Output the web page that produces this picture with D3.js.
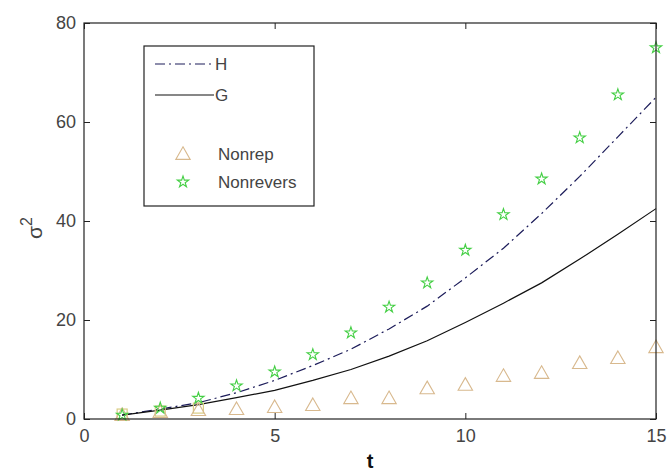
<!DOCTYPE html>
<html>
<head>
<meta charset="utf-8">
<script src="https://cdn.jsdelivr.net/npm/d3@7"></script>
<style>
  html, body { margin: 0; padding: 0; background: #fff; }
  svg { display: block; font-family: "Liberation Sans", Arial, sans-serif; }
</style>
</head>
<body>
<svg id="chart" width="667" height="475"></svg>
<script>
// Time steps
const t = [1, 2, 3, 4, 5, 6, 7, 8, 9, 10, 11, 12, 13, 14, 15];
// Model curves
const H = [0.8, 2.0, 3.3, 5.3, 7.8, 10.8, 14.1, 18.2, 22.8, 28.5, 34.5, 41.5, 49.0, 57.0, 65.0];
const G = [0.8, 1.8, 2.9, 4.3, 5.8, 7.8, 10.0, 12.7, 15.8, 19.5, 23.4, 27.5, 32.3, 37.3, 42.5];
// Simulated points
const nonrep = [0.8, 1.4, 1.8, 2.0, 2.4, 2.8, 4.2, 4.2, 6.2, 6.9, 8.7, 9.3, 11.3, 12.3, 14.5];
const nonrevers = [0.8, 2.2, 4.2, 6.7, 9.5, 13.0, 17.4, 22.6, 27.5, 34.1, 41.3, 48.5, 56.8, 65.5, 75.0];
const squareT = [1, 2, 3];
const squareV = [1.0, 1.6, 2.2];
// Axis ticks
const xTicks = [0, 5, 10, 15];
const yTicks = [0, 20, 40, 60, 80];

const svg = d3.select("#chart");
const L = 84, R = 656, T = 23, B = 419;
const x = d3.scaleLinear().domain([0, 15]).range([L, R]);
const y = d3.scaleLinear().domain([0, 80]).range([B, T]);

const textCol = "#444";
const triCol = "#d8b98e";
const starCol = "#45cf45";
const sqCol = "#d9cc84";

// Lines
const line = d3.line().x((d, i) => x(t[i])).y(d => y(d));
svg.append("path").datum(H).attr("d", line)
  .attr("fill", "none").attr("stroke", "#1c1c5a").attr("stroke-width", 1.2)
  .attr("stroke-dasharray", "10,4,2,4");
svg.append("path").datum(G).attr("d", line)
  .attr("fill", "none").attr("stroke", "#111").attr("stroke-width", 1.2);

// Marker shapes
const triPath = s => `M0,${-s*0.6}L${s*0.6},${s*0.45}L${-s*0.6},${s*0.45}Z`;
const starPath = d3.symbol().type(d3.symbolStar).size(40)();

svg.append("g").selectAll("rect").data(squareV).join("rect")
  .attr("x", (d, i) => x(squareT[i]) - 5).attr("y", d => y(d) - 5)
  .attr("width", 10).attr("height", 10)
  .attr("fill", "none").attr("stroke", sqCol).attr("stroke-width", 1.2);

svg.append("g").selectAll("path").data(nonrep).join("path")
  .attr("d", triPath(12))
  .attr("transform", (d, i) => `translate(${x(t[i])},${y(d)})`)
  .attr("fill", "none").attr("stroke", triCol).attr("stroke-width", 1.1);

svg.append("g").selectAll("path").data(nonrevers).join("path")
  .attr("d", starPath)
  .attr("transform", (d, i) => `translate(${x(t[i])},${y(d)})`)
  .attr("fill", "none").attr("stroke", starCol).attr("stroke-width", 1.1);

// Axes box with inward ticks on all sides
const axG = svg.append("g").attr("stroke", "#222");
axG.append("rect").attr("x", L).attr("y", T).attr("width", R - L).attr("height", B - T)
  .attr("fill", "none").attr("stroke-width", 1.2);

const axB = d3.axisBottom(x).tickValues(xTicks).tickSize(-6).tickPadding(10);
const gx = svg.append("g").attr("transform", `translate(0,${B})`).call(axB);
gx.select(".domain").remove();
gx.selectAll("line").attr("stroke", "#222");
gx.selectAll("text").attr("font-size", 18).attr("fill", textCol)
  .attr("font-family", "Liberation Sans, Arial, sans-serif");

const axT = d3.axisTop(x).tickValues(xTicks).tickSize(-6).tickFormat("");
const gt = svg.append("g").attr("transform", `translate(0,${T})`).call(axT);
gt.select(".domain").remove();
gt.selectAll("line").attr("stroke", "#222");

const axL = d3.axisLeft(y).tickValues(yTicks).tickSize(-6).tickPadding(8);
const gy = svg.append("g").attr("transform", `translate(${L},0)`).call(axL);
gy.select(".domain").remove();
gy.selectAll("line").attr("stroke", "#222");
gy.selectAll("text").attr("font-size", 18).attr("fill", textCol)
  .attr("font-family", "Liberation Sans, Arial, sans-serif");

const axR = d3.axisRight(y).tickValues(yTicks).tickSize(-6).tickFormat("");
const gr = svg.append("g").attr("transform", `translate(${R},0)`).call(axR);
gr.select(".domain").remove();
gr.selectAll("line").attr("stroke", "#222");

// Axis titles
svg.append("text").attr("x", 370).attr("y", 468).attr("text-anchor", "middle")
  .attr("font-size", 20).attr("font-weight", "bold").attr("fill", "#111").text("t");

const yl = svg.append("text").attr("transform", "translate(42,228) rotate(-90)")
  .attr("text-anchor", "middle").attr("font-size", 21).attr("fill", textCol);
yl.append("tspan").text("σ");
yl.append("tspan").attr("dy", -10).attr("font-size", 16).text("2");

// Legend
const lg = svg.append("g");
lg.append("rect").attr("x", 144).attr("y", 46).attr("width", 170).attr("height", 160)
  .attr("fill", "#fff").attr("stroke", "#222").attr("stroke-width", 1.2);
lg.append("line").attr("x1", 155).attr("x2", 214).attr("y1", 64).attr("y2", 64)
  .attr("stroke", "#1c1c5a").attr("stroke-width", 1.2).attr("stroke-dasharray", "10,4,2,4");
lg.append("line").attr("x1", 155).attr("x2", 214).attr("y1", 95).attr("y2", 95)
  .attr("stroke", "#111").attr("stroke-width", 1.2);
lg.append("path").attr("d", triPath(12)).attr("transform", "translate(183,154)")
  .attr("fill", "none").attr("stroke", triCol).attr("stroke-width", 1.1);
lg.append("path").attr("d", starPath).attr("transform", "translate(183,182)")
  .attr("fill", "none").attr("stroke", starCol).attr("stroke-width", 1.1);
const legText = [["H", 215, 64], ["G", 215, 95], ["Nonrep", 218, 154], ["Nonrevers", 218, 182]];
lg.selectAll("text.leg").data(legText).join("text").attr("class", "leg")
  .attr("x", d => d[1]).attr("y", d => d[2]).attr("dy", "0.36em")
  .attr("font-size", 17).attr("fill", textCol).text(d => d[0]);
</script>
</body>
</html>
